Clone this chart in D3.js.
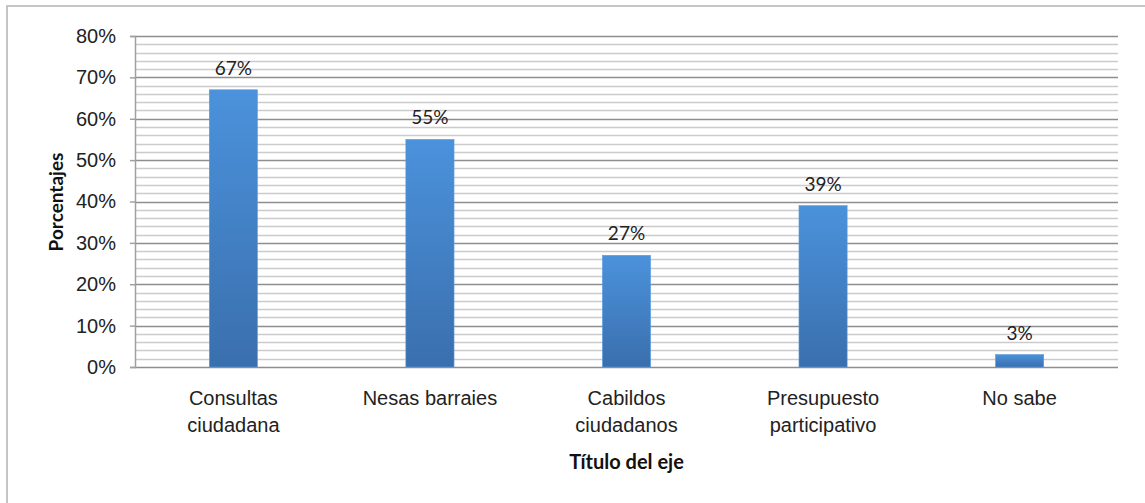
<!DOCTYPE html>
<html>
<head>
<meta charset="utf-8">
<script src="https://cdn.jsdelivr.net/npm/d3@7"></script>
<style>
  body { margin: 0; background: #fff; }
  svg { display: block; }
</style>
</head>
<body>
<svg width="1145" height="503"></svg>
<script>
const categories = [
  ["Consultas", "ciudadana"],
  ["Nesas barraies"],
  ["Cabildos", "ciudadanos"],
  ["Presupuesto", "participativo"],
  ["No sabe"]
];
const values = [0.67, 0.55, 0.27, 0.39, 0.03];
const valueLabels = ["67%", "55%", "27%", "39%", "3%"];
const majorTicks = [0, 0.1, 0.2, 0.3, 0.4, 0.5, 0.6, 0.7, 0.8];
const minorTicks = d3.range(0, 41).map((i) => i / 50);

const svg = d3.select("svg");
const margin = { top: 36, left: 135, right: 27, bottom: 136 },
  width = 1145 - margin.left - margin.right,
  height = 503 - margin.top - margin.bottom;

// outer frame, cropped at right/bottom like the reference
svg
  .append("rect")
  .attr("x", 7)
  .attr("y", 6)
  .attr("width", 1160)
  .attr("height", 520)
  .attr("fill", "none")
  .attr("stroke", "#b3b3b3")
  .attr("stroke-width", 1.5);

const g = svg.append("g").attr("transform", `translate(${margin.left},${margin.top})`);

const x = d3.scaleBand().domain(d3.range(categories.length)).range([0, width]).paddingInner(0.755).paddingOuter(0.378);
const y = d3.scaleLinear().domain([0, 0.8]).range([height, 0]);

const defs = svg.append("defs");
const grad = defs
  .append("linearGradient")
  .attr("id", "barGrad")
  .attr("x1", "0%")
  .attr("y1", "0%")
  .attr("x2", "0%")
  .attr("y2", "100%");
grad.append("stop").attr("offset", "0%").attr("stop-color", "#4b92dc");
grad.append("stop").attr("offset", "100%").attr("stop-color", "#3a6fad");

// minor gridlines
g.append("g")
  .selectAll("line")
  .data(minorTicks.filter((d) => Math.round(d * 50) % 5 !== 0))
  .join("line")
  .attr("x1", 0)
  .attr("x2", width)
  .attr("y1", (d) => Math.round(y(d)) + 0.5)
  .attr("y2", (d) => Math.round(y(d)) + 0.5)
  .attr("stroke", "#cbcbcb")
  .attr("stroke-width", 1.5);

// major gridlines
g.append("g")
  .selectAll("line")
  .data(majorTicks)
  .join("line")
  .attr("x1", 0)
  .attr("x2", width)
  .attr("y1", (d) => Math.round(y(d)) + 0.5)
  .attr("y2", (d) => Math.round(y(d)) + 0.5)
  .attr("stroke", "#8e8e8e")
  .attr("stroke-width", 1.5);

// y axis
g.append("g")
  .call(d3.axisLeft(y).tickValues(majorTicks).tickFormat(d3.format(".0%")).tickSize(5).tickPadding(14))
  .call((a) => a.select(".domain").attr("stroke", "#a0a0a0").attr("stroke-width", 1.5))
  .call((a) => a.selectAll(".tick line").attr("stroke", "#a0a0a0").attr("stroke-width", 1.5))
  .call((a) =>
    a
      .selectAll(".tick text")
      .attr("font-family", "Liberation Sans, Arial, sans-serif")
      .attr("font-size", "20px")
      .attr("fill", "#222")
  );

// bars
g.append("g")
  .selectAll("rect")
  .data(values)
  .join("rect")
  .attr("x", (d, i) => x(i))
  .attr("y", (d) => y(d))
  .attr("width", x.bandwidth())
  .attr("height", (d) => y(0) - y(d))
  .attr("fill", "url(#barGrad)")
  .attr("stroke", "#5b9be0")
  .attr("stroke-width", 0.6);

// value labels
g.append("g")
  .selectAll("text")
  .data(values)
  .join("text")
  .attr("x", (d, i) => x(i) + x.bandwidth() / 2)
  .attr("y", (d) => y(d) - 15)
  .attr("text-anchor", "middle")
  .attr("font-family", "Lato, Carlito, sans-serif")
  .attr("font-size", "19px")
  .attr("fill", "#222")
  .text((d, i) => valueLabels[i]);

// category labels
const cat = g
  .append("g")
  .selectAll("text")
  .data(categories)
  .join("text")
  .attr("x", (d, i) => x(i) + x.bandwidth() / 2)
  .attr("y", height + 38)
  .attr("text-anchor", "middle")
  .attr("font-family", "Liberation Sans, Arial, sans-serif")
  .attr("font-size", "20px")
  .attr("fill", "#222");
cat
  .selectAll("tspan")
  .data((d, i) => d.map((t) => ({ t, i })))
  .join("tspan")
  .attr("x", (d) => x(d.i) + x.bandwidth() / 2)
  .attr("dy", (d, j) => (j === 0 ? 0 : 27))
  .text((d) => d.t);

// axis titles
g.append("text")
  .attr("x", width / 2)
  .attr("y", height + 102)
  .attr("text-anchor", "middle")
  .attr("font-family", "Lato, Carlito, sans-serif")
  .attr("font-weight", "bold")
  .attr("font-size", "20px")
  .attr("fill", "#111")
  .text("Título del eje");

g.append("text")
  .attr("transform", "rotate(-90)")
  .attr("x", -(202 - margin.top))
  .attr("y", 63 - margin.left)
  .attr("text-anchor", "middle")
  .attr("font-family", "Lato, Carlito, sans-serif")
  .attr("font-weight", "bold")
  .attr("font-size", "19px")
  .attr("fill", "#111")
  .text("Porcentajes");
</script>
</body>
</html>
